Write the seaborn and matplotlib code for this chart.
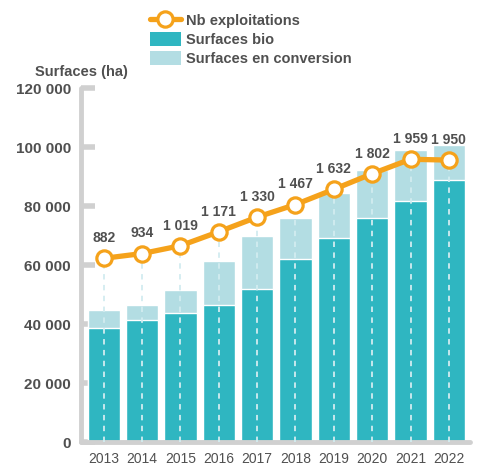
import matplotlib
matplotlib.use("Agg")
import matplotlib.pyplot as plt
import seaborn as sns
import pandas as pd
import numpy as np
from matplotlib.lines import Line2D
from matplotlib.patches import Patch

years = ["2013", "2014", "2015", "2016", "2017", "2018", "2019", "2020", "2021", "2022"]
surf_bio = [38600, 41200, 43600, 46300, 52000, 62200, 69000, 76000, 81800, 88900]
surf_conv = [6000, 5400, 8100, 15200, 17900, 13800, 15500, 16200, 17200, 11800]
nb_exploit = [882, 934, 1019, 1171, 1330, 1467, 1632, 1802, 1959, 1950]
nb_labels = ["882", "934", "1 019", "1 171", "1 330", "1 467", "1 632", "1 802", "1 959", "1 950"]
y_ticks = [0, 20000, 40000, 60000, 80000, 100000, 120000]
y_ticklabels = ["0", "20 000", "40 000", "60 000", "80 000", "100 000", "120 000"]

TEAL = "#2fb6c1"
LIGHT = "#b3dde3"
ORANGE = "#f5a21b"
GREY_TXT = "#505050"
SPINE = "#d0d0d0"

sns.set_theme(style="white")
plt.rcParams["font.family"] = ["Liberation Sans", "DejaVu Sans"]

df = pd.DataFrame({"year": years, "bio": surf_bio, "conv": surf_conv, "nb": nb_exploit})
df["total"] = df["bio"] + df["conv"]
df["pos"] = np.arange(len(df))

fig = plt.figure(figsize=(4.81, 4.66), dpi=100)
ax = fig.add_axes([0.168, 0.0515, 0.809, 0.7595])

sns.barplot(data=df, x="year", y="total", color=LIGHT, width=0.84, ax=ax,
            saturation=1, zorder=1)
sns.barplot(data=df, x="year", y="bio", color=TEAL, width=0.84, ax=ax,
            saturation=1, zorder=2)

ax.set_ylim(0, 120000)
ax.set_xlim(-0.6, 9.55)
ax.set_yticks(y_ticks)
ax.set_yticklabels(y_ticklabels, fontsize=11, fontweight="bold", color=GREY_TXT)
ax.tick_params(axis="y", direction="in", length=10, width=4, color=SPINE, pad=7)
for t in ax.yaxis.get_ticklines():
    t.set_solid_capstyle("round")
ax.tick_params(axis="x", length=0, pad=7, labelsize=10, labelcolor=GREY_TXT)
ax.set_xlabel("")
ax.set_ylabel("")
for s in ["top", "right"]:
    ax.spines[s].set_visible(False)
for s in ["left", "bottom"]:
    ax.spines[s].set_color(SPINE)
    ax.spines[s].set_linewidth(3.5)
    ax.spines[s].set_capstyle("round")

ax2 = ax.twinx()
ax2.set_ylim(-1115, 2733)
for s in ax2.spines.values():
    s.set_visible(False)
ax2.set_yticks([])

# dashed drop lines
ax2.vlines(df["pos"], -1115, df["nb"], colors="#d2ecf0", linestyles=(0, (3, 3)),
           linewidth=1.3, zorder=1)

sns.lineplot(data=df, x="pos", y="nb", ax=ax2, color=ORANGE, linewidth=3.8,
             marker="o", markersize=11, markerfacecolor="white",
             markeredgecolor=ORANGE, markeredgewidth=2.3, zorder=3)
ax2.set_xlabel("")
ax2.set_ylabel("")
ax2.set_xlim(-0.6, 9.55)

for p, v, lab in zip(df["pos"], nb_exploit, nb_labels):
    ax2.annotate(lab, (p, v), xytext=(0, 9.5), textcoords="offset points",
                 ha="center", va="bottom", fontsize=10, fontweight="bold",
                 color=GREY_TXT)

fig.text(35 / 481, 1 - 76 / 466, "Surfaces (ha)", fontsize=10.5, fontweight="bold",
         color=GREY_TXT, ha="left", va="baseline")

handles = [
    Line2D([0], [0], color=ORANGE, linewidth=3.8, marker="o", markersize=11,
           markerfacecolor="white", markeredgecolor=ORANGE, markeredgewidth=2.3),
    Patch(facecolor=TEAL, edgecolor="none"),
    Patch(facecolor=LIGHT, edgecolor="none"),
]
labels = ["Nb exploitations", "Surfaces bio", "Surfaces en conversion"]
leg = fig.legend(handles, labels, loc="upper left",
                 bbox_to_anchor=(150 / 481, 1 - 13 / 466),
                 frameon=False, fontsize=10.5, handlelength=2.1, handleheight=1.1,
                 handletextpad=0.35, labelspacing=0.27, borderaxespad=0,
                 borderpad=0)
for t in leg.get_texts():
    t.set_color(GREY_TXT)
    t.set_fontweight("bold")

fig.savefig("out.png", dpi=100)
